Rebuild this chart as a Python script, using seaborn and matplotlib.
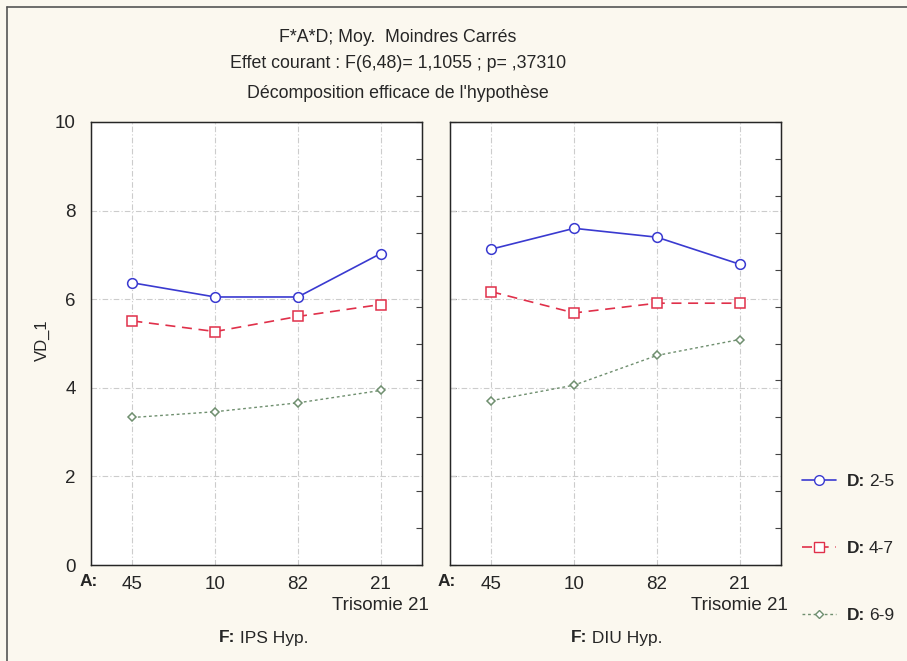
import matplotlib
matplotlib.use("Agg")
import numpy as np
import pandas as pd
import seaborn as sns
import matplotlib.pyplot as plt
from matplotlib.lines import Line2D

# values
a_levels = ["45", "10", "82", "21"]
a_ticklabels = ["45", "10", "82", "21\nTrisomie 21"]
panels = ["IPS Hyp.", "DIU Hyp."]
d_levels = ["2-5", "4-7", "6-9"]

ips_25 = [6.37, 6.05, 6.05, 7.03]
ips_47 = [5.51, 5.27, 5.61, 5.88]
ips_69 = [3.33, 3.46, 3.66, 3.94]
diu_25 = [7.13, 7.60, 7.40, 6.79]
diu_47 = [6.17, 5.69, 5.91, 5.91]
diu_69 = [3.71, 4.06, 4.73, 5.09]

rows = []
for f, series in zip(panels, [[ips_25, ips_47, ips_69], [diu_25, diu_47, diu_69]]):
    for d, vals in zip(d_levels, series):
        for a, v in zip(a_levels, vals):
            rows.append({"F": f, "A": a, "D": d, "VD_1": v})
df = pd.DataFrame(rows)

sns.set_style("white")
plt.rcParams["font.family"] = ["Liberation Sans", "DejaVu Sans"]

colors = {"2-5": "#3a3ad0", "4-7": "#e0304a", "6-9": "#6f8f6f"}
markers = {"2-5": "o", "4-7": "s", "6-9": "D"}
msize = {"2-5": 7, "4-7": 7, "6-9": 4.5}
lstyle = {"2-5": "-", "4-7": (0, (6, 4)), "6-9": (0, (2, 2))}
lwidth = {"2-5": 1.2, "4-7": 1.2, "6-9": 1.0}

bg = "#fbf8ef"
fig = plt.figure(figsize=(9.07, 6.61), dpi=100, facecolor=bg)
W, H = 907, 661
axes = [fig.add_axes([91 / W, 1 - 565 / H, 331 / W, 443 / H]),
        fig.add_axes([450 / W, 1 - 565 / H, 331 / W, 443 / H])]

grid_kw = dict(color="#cccccc", linewidth=0.8, linestyle=(0, (5, 2, 1, 2)))

for i, (ax, f) in enumerate(zip(axes, panels)):
    ax.set_facecolor("white")
    sub = df[df["F"] == f]
    for d in d_levels:
        s = sub[sub["D"] == d]
        sns.lineplot(data=s, x="A", y="VD_1", ax=ax, sort=False,
                     color=colors[d], linestyle=lstyle[d], linewidth=lwidth[d],
                     marker=markers[d], markersize=msize[d],
                     markerfacecolor="white", markeredgecolor=colors[d],
                     markeredgewidth=1.1, zorder=3)
    ax.set_xlim(-0.5, 3.5)
    ax.set_ylim(0, 10)
    ax.set_xticks(range(len(a_levels)))
    ax.set_xticklabels(a_ticklabels, fontsize=13.5, linespacing=1.3)
    ax.set_yticks([0, 2, 4, 6, 8, 10])
    for y in [2, 4, 6, 8]:
        ax.axhline(y, zorder=1, **grid_kw)
    for x in range(len(a_levels)):
        ax.axvline(x, zorder=1, **grid_kw)
    ax.grid(False)
    ax.set_xlabel("")
    ax.set_ylabel("")
    for sp in ax.spines.values():
        sp.set_visible(True)
        sp.set_color("#222222")
        sp.set_linewidth(1.0)
    ax.tick_params(axis="x", direction="in", length=4, pad=8, color="#444444")
    if i == 0:
        ax.tick_params(axis="y", length=0, pad=11, labelsize=13.5)
    else:
        ax.tick_params(axis="y", direction="in", length=4, labelleft=False,
                       color="#444444")
    ax2 = ax.twinx()
    ax2.set_ylim(0, 10)
    ax2.set_yticks(np.linspace(0, 10, 13))
    ax2.tick_params(axis="y", direction="in", length=4, labelright=False,
                    color="#444444")
    ax2.grid(False)

fig.text(42 / W, 1 - 340 / H, "VD_1", rotation=90, ha="center", va="center",
         fontsize=12)
for x in [89, 447]:
    fig.text(x / W, 1 - 581 / H, "A:", ha="center", va="center",
             fontsize=12.5, fontweight="bold")

titles = ["F*A*D; Moy.  Moindres Carrés",
          "Effet courant : F(6,48)= 1,1055 ; p= ,37310",
          "Décomposition efficace de l'hypothèse"]
for y, t in zip([37, 64, 94], titles):
    fig.text(398 / W, 1 - y / H, t, ha="center", va="center", fontsize=12.8)

handles = [Line2D([], [], color=colors[d], linestyle=lstyle[d],
                  linewidth=lwidth[d], marker=markers[d], markersize=msize[d],
                  markerfacecolor="white", markeredgecolor=colors[d])
           for d in d_levels]
leg = fig.legend(handles, ["D:"] * 3, loc="upper left",
                 bbox_to_anchor=(786 / W, 1 - 458 / H), frameon=False,
                 prop={"size": 12.5, "weight": "bold"}, labelspacing=3.0,
                 handlelength=2.0, handletextpad=0.6)

# bold "F:" followed by the plain panel name, centred under each panel
fig.canvas.draw()
renderer = fig.canvas.get_renderer()
for x, f in zip([235, 587], panels):
    fig.text(x / W, 1 - 638 / H, "F:", ha="right", va="center",
             fontsize=12.5, fontweight="bold")
    fig.text(x / W, 1 - 638 / H, " " + f, ha="left", va="center",
             fontsize=12.5)
for lt, d in zip(leg.get_texts(), d_levels):
    bb = lt.get_window_extent(renderer)
    fig.text((bb.x1 + 4) / W, (bb.y0 + bb.y1) / 2 / H, d, ha="left",
             va="center", fontsize=12.5)

# outer frame (left and top edges)
fig.add_artist(Line2D([7 / W, 7 / W], [0, 1 - 7 / H], color="#555555",
                      linewidth=1.2, transform=fig.transFigure))
fig.add_artist(Line2D([7 / W, 1], [1 - 7 / H, 1 - 7 / H], color="#555555",
                      linewidth=1.2, transform=fig.transFigure))

fig.savefig("out.png", dpi=100, facecolor=bg)
